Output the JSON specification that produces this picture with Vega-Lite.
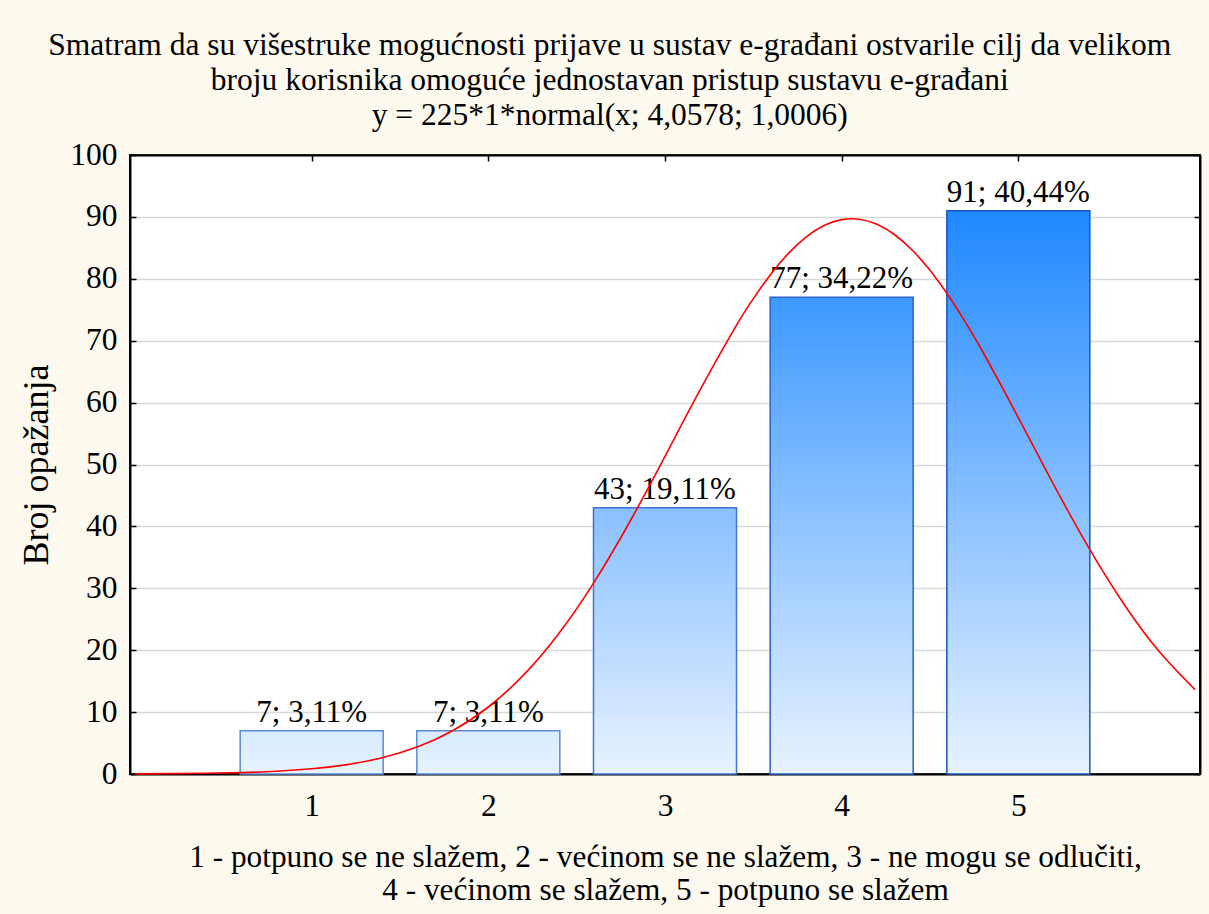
{
  "$schema": "https://vega.github.io/schema/vega-lite/v6.json",
  "width": 1070,
  "height": 619,
  "autosize": {"type": "none"},
  "padding": {"left": 130, "top": 155, "right": 9, "bottom": 140},
  "background": "#FDF9EE",
  "config": {
    "view": {"fill": "white", "stroke": "black", "strokeWidth": 2},
    "font": "'Liberation Serif', 'Times New Roman', Tinos, 'DejaVu Serif', serif"
  },
  "title": {
    "text": [
      "Smatram da su višestruke mogućnosti prijave u sustav e-građani ostvarile cilj da velikom",
      "broju korisnika omoguće jednostavan pristup sustavu e-građani",
      "y = 225*1*normal(x; 4,0578; 1,0006)"
    ],
    "font": "'Liberation Serif', 'Times New Roman', Tinos, 'DejaVu Serif', serif",
    "fontSize": 31.5,
    "fontWeight": "normal",
    "color": "black",
    "frame": "bounds",
    "anchor": "middle",
    "lineHeight": 35,
    "offset": 8
  },
  "datasets": {
    "bars": [
      {"k": 1, "n": 7, "label": "7; 3,11%"},
      {"k": 2, "n": 7, "label": "7; 3,11%"},
      {"k": 3, "n": 43, "label": "43; 19,11%"},
      {"k": 4, "n": 77, "label": "77; 34,22%"},
      {"k": 5, "n": 91, "label": "91; 40,44%"}
    ],
    "curve": [
      {"x": 0.0, "y": 0.024}, {"x": 0.2, "y": 0.053}, {"x": 0.4, "y": 0.112},
      {"x": 0.6, "y": 0.229}, {"x": 0.8, "y": 0.448}, {"x": 1.0, "y": 0.841},
      {"x": 1.2, "y": 1.519}, {"x": 1.4, "y": 2.635}, {"x": 1.6, "y": 4.392},
      {"x": 1.8, "y": 7.034}, {"x": 2.0, "y": 10.824}, {"x": 2.2, "y": 16.007},
      {"x": 2.4, "y": 22.741}, {"x": 2.6, "y": 31.039}, {"x": 2.8, "y": 40.71},
      {"x": 3.0, "y": 51.303}, {"x": 3.2, "y": 62.121}, {"x": 3.4, "y": 72.273},
      {"x": 3.5, "y": 76.798}, {"x": 3.6, "y": 80.791}, {"x": 3.7, "y": 84.152},
      {"x": 3.8, "y": 86.779}, {"x": 3.9, "y": 88.599}, {"x": 4.0, "y": 89.558},
      {"x": 4.1, "y": 89.628}, {"x": 4.2, "y": 88.806}, {"x": 4.3, "y": 87.118},
      {"x": 4.4, "y": 84.613}, {"x": 4.5, "y": 81.363}, {"x": 4.6, "y": 77.458},
      {"x": 4.7, "y": 73.013}, {"x": 4.8, "y": 68.133}, {"x": 5.0, "y": 57.582},
      {"x": 5.2, "y": 46.761}, {"x": 5.4, "y": 36.484}, {"x": 5.6, "y": 27.353},
      {"x": 5.8, "y": 19.703}, {"x": 6.0, "y": 13.637}
    ]
  },
  "resolve": {"axis": {"x": "independent", "y": "independent"}},
  "layer": [
    {
      "data": {"name": "bars"},
      "transform": [{"filter": "datum.k == 1"}],
      "mark": {"type": "bar", "width": 143, "stroke": "#5A8AD8", "strokeWidth": 1.5,
        "color": {"gradient": "linear", "x1": 0, "y1": 1, "x2": 0, "y2": 0,
          "stops": [{"offset": 0, "color": "#E8F3FF"}, {"offset": 1, "color": "#D8EBFF"}]}},
      "encoding": {
        "x": {"field": "k", "type": "quantitative",
          "scale": {"domain": [0, 6], "nice": false, "zero": false},
          "axis": {
            "orient": "bottom",
            "values": [1, 2, 3, 4, 5],
            "grid": false,
            "domainColor": "black", "domainWidth": 2,
            "tickColor": "black", "tickSize": -6, "tickWidth": 1.5,
            "labelFontSize": 31.5, "labelColor": "black",
            "labelPadding": 22,
            "title": ["1 - potpuno se ne slažem, 2 - većinom se ne slažem, 3 - ne mogu se odlučiti,", "4 - većinom se slažem, 5 - potpuno se slažem"],
            "titleFontSize": 31.3, "titleFontWeight": "normal",
            "titleColor": "black", "titleLineHeight": 33, "titlePadding": 20
          }},
        "y": {"field": "n", "type": "quantitative",
          "scale": {"domain": [0, 100], "nice": false},
          "axis": {
            "orient": "left",
            "values": [0, 10, 20, 30, 40, 50, 60, 70, 80, 90, 100],
            "grid": true, "gridColor": "#D9D9D9", "gridWidth": 1.5,
            "domainColor": "black", "domainWidth": 2,
            "tickColor": "black", "tickSize": -6, "tickWidth": 1.5,
            "labelFontSize": 31.5, "labelColor": "black",
            "labelPadding": 19,
            "title": "Broj opažanja",
            "titleFontSize": 36, "titleFontWeight": "normal",
            "titleColor": "black", "titlePadding": 14
          }}
      }
    },
    {
      "data": {"name": "bars"},
      "transform": [{"filter": "datum.k == 2"}],
      "mark": {"type": "bar", "width": 143, "stroke": "#5A8AD8", "strokeWidth": 1.5,
        "color": {"gradient": "linear", "x1": 0, "y1": 1, "x2": 0, "y2": 0,
          "stops": [{"offset": 0, "color": "#E8F3FF"}, {"offset": 1, "color": "#D8EBFF"}]}},
      "encoding": {
        "x": {"field": "k", "type": "quantitative", "scale": {"domain": [0, 6], "nice": false, "zero": false}, "axis": null},
        "y": {"field": "n", "type": "quantitative", "scale": {"domain": [0, 100], "nice": false}, "axis": null}
      }
    },
    {
      "data": {"name": "bars"},
      "transform": [{"filter": "datum.k == 3"}],
      "mark": {"type": "bar", "width": 143, "stroke": "#3F74D0", "strokeWidth": 1.5,
        "color": {"gradient": "linear", "x1": 0, "y1": 1, "x2": 0, "y2": 0,
          "stops": [{"offset": 0, "color": "#E8F3FF"}, {"offset": 1, "color": "#89C0FF"}]}},
      "encoding": {
        "x": {"field": "k", "type": "quantitative", "scale": {"domain": [0, 6], "nice": false, "zero": false}, "axis": null},
        "y": {"field": "n", "type": "quantitative", "scale": {"domain": [0, 100], "nice": false}, "axis": null}
      }
    },
    {
      "data": {"name": "bars"},
      "transform": [{"filter": "datum.k == 4"}],
      "mark": {"type": "bar", "width": 143, "stroke": "#2A62C8", "strokeWidth": 1.5,
        "color": {"gradient": "linear", "x1": 0, "y1": 1, "x2": 0, "y2": 0,
          "stops": [{"offset": 0, "color": "#E8F3FF"}, {"offset": 1, "color": "#3D99FF"}]}},
      "encoding": {
        "x": {"field": "k", "type": "quantitative", "scale": {"domain": [0, 6], "nice": false, "zero": false}, "axis": null},
        "y": {"field": "n", "type": "quantitative", "scale": {"domain": [0, 100], "nice": false}, "axis": null}
      }
    },
    {
      "data": {"name": "bars"},
      "transform": [{"filter": "datum.k == 5"}],
      "mark": {"type": "bar", "width": 143, "stroke": "#1A55C0", "strokeWidth": 1.5,
        "color": {"gradient": "linear", "x1": 0, "y1": 1, "x2": 0, "y2": 0,
          "stops": [{"offset": 0, "color": "#E8F3FF"}, {"offset": 1, "color": "#1E88FF"}]}},
      "encoding": {
        "x": {"field": "k", "type": "quantitative", "scale": {"domain": [0, 6], "nice": false, "zero": false}, "axis": null},
        "y": {"field": "n", "type": "quantitative", "scale": {"domain": [0, 100], "nice": false}, "axis": null}
      }
    },
    {
      "data": {"name": "bars"},
      "mark": {"type": "text", "baseline": "bottom", "dy": -2, "fontSize": 31, "color": "black"},
      "encoding": {
        "x": {"field": "k", "type": "quantitative", "scale": {"domain": [0, 6], "nice": false, "zero": false}, "axis": null},
        "y": {"field": "n", "type": "quantitative", "scale": {"domain": [0, 100], "nice": false}, "axis": null},
        "text": {"field": "label", "type": "nominal"}
      }
    },
    {
      "data": {"name": "curve"},
      "mark": {"type": "line", "interpolate": "natural", "color": "#FF0000", "strokeWidth": 1.6},
      "encoding": {
        "x": {"field": "x", "type": "quantitative", "scale": {"domain": [0, 6], "nice": false, "zero": false},
          "axis": {"orient": "top", "values": [1, 2, 3, 4, 5], "labels": false, "grid": false, "title": null,
            "domainColor": "black", "domainWidth": 2, "tickColor": "black", "tickSize": -6, "tickWidth": 1.5}},
        "y": {"field": "y", "type": "quantitative", "scale": {"domain": [0, 100], "nice": false},
          "axis": {"orient": "right", "values": [0, 10, 20, 30, 40, 50, 60, 70, 80, 90, 100], "labels": false, "grid": false, "title": null,
            "domainColor": "black", "domainWidth": 2, "tickColor": "black", "tickSize": -6, "tickWidth": 1.5}}
      }
    }
  ]
}
